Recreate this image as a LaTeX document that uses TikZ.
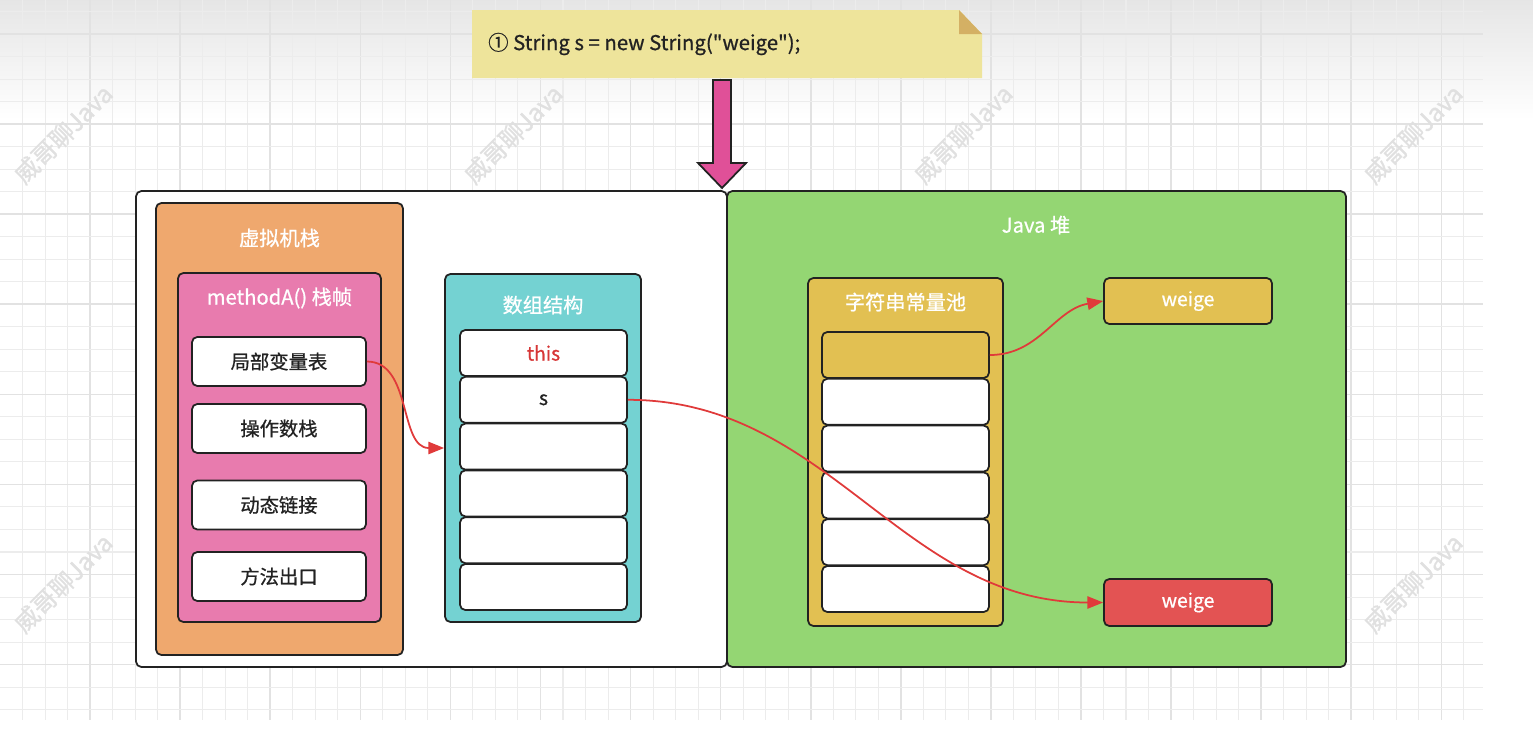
\documentclass[tikz,border=0pt]{standalone}
\usepackage{fontspec}
\setmainfont{Noto Sans CJK SC}[FakeBold=0.8]
\newfontfamily\codefont{Noto Sans CJK SC}[FakeBold=0.8]
\usetikzlibrary{arrows.meta,positioning}
\definecolor{NoteY}  {RGB}{238,228,155}
\definecolor{NoteF}  {RGB}{212,176,100}
\definecolor{ArrowP} {RGB}{224, 80,152}
\definecolor{HeapG}  {RGB}{148,214,115}
\definecolor{StackO} {RGB}{239,168,110}
\definecolor{FrameP} {RGB}{232,123,174}
\definecolor{ArrC}   {RGB}{116,210,210}
\definecolor{PoolY}  {RGB}{226,192, 82}
\definecolor{WeigeR} {RGB}{227, 83, 83}
\definecolor{LinkR}  {RGB}{224, 58, 58}
\definecolor{ThisR}  {RGB}{215, 55, 55}
\definecolor{LineD}  {RGB}{ 34, 34, 34}
\definecolor{GridL}  {RGB}{236,236,236}
\definecolor{GridB}  {RGB}{226,226,226}
\definecolor{MarkG}  {RGB}{224,224,224}

\begin{document}
\begin{tikzpicture}[x=0.02cm,y=-0.02cm,
    box/.style={draw=LineD,line width=1pt,rounded corners=3pt,inner sep=0pt},
    cell/.style={box,fill=white,text=LineD,minimum width=3.34cm,minimum height=0.92cm,
      font=\fontsize{11}{13}\selectfont},
    title/.style={text=white,font=\fontsize{11.5}{13}\selectfont},
    wmark/.style={text=MarkG,rotate=45,font=\fontsize{14}{16}\selectfont},
    link/.style={LinkR,line width=1pt,-{Triangle[length=9pt,width=7pt]}}]
  \useasboundingbox (0,0) rectangle (1533,737);
  % paper background
  \fill[white] (0,0) rectangle (1533,737);
  \shade[top color=black!10,bottom color=white] (0,0) rectangle (1533,120);
  \foreach \i in {1,...,65}{
    \pgfmathtruncatemacro\r{mod(\i,4)}
    \ifnum\r=0 \draw[GridB,line width=0.9pt] ({22.52*\i},0) -- ({22.52*\i},720);
    \else \draw[GridL,line width=0.6pt] ({22.52*\i},0) -- ({22.52*\i},720); \fi}
  \foreach \j in {0,...,31}{
    \pgfmathtruncatemacro\r{mod(\j+3,4)}
    \ifnum\r=0 \draw[GridB,line width=0.9pt] (0,{11.5+22.52*\j}) -- (1483,{11.5+22.52*\j});
    \else \draw[GridL,line width=0.6pt] (0,{11.5+22.52*\j}) -- (1483,{11.5+22.52*\j}); \fi}
  \foreach \x/\y in {63/134,513/134,963/134,1413/134,63/583,1413/583}
    \node[wmark] (wm-\x-\y) at (\x,\y) {威哥聊Java};

  % code note
  \fill[NoteY] (472,10) -- (959,10) -- (982,34) -- (982,78) -- (472,78) -- cycle;
  \fill[NoteF] (959,10) -- (959,34) -- (982,34) -- cycle;
  \node[anchor=west,text=LineD,font=\codefont\fontsize{11.6}{13}\selectfont] (code) at (482,44)
    {① String s = new String("weige");};
  \draw[LineD,line width=1pt,fill=ArrowP] (713,80) -- (731,80) -- (731,163) -- (746,163)
    -- (722,188) -- (698,163) -- (713,163) -- cycle;

  % runtime areas
  \node[box,fill=white,minimum width=11.82cm,minimum height=9.52cm] (jvm) at (431.5,429) {};
  \node[box,fill=HeapG,minimum width=12.38cm,minimum height=9.52cm] (heap) at (1036.5,429) {};
  \node[title] (heapT) at (1036,225) {Java 堆};

  % stack and frame
  \node[box,fill=StackO,minimum width=4.94cm,minimum height=9.04cm] (stack) at (279.5,429) {};
  \node[title] (stackT) at (279.5,238) {虚拟机栈};
  \node[box,fill=FrameP,minimum width=4.06cm,minimum height=6.98cm] (frame) at (279.5,447.5) {};
  \node[title] (frameT) at (279.5,298) {methodA() 栈帧};
  \foreach \n/\y/\t in {loc/361.5/局部变量表,ops/428.5/操作数栈,dyn/505/动态链接,ret/576.5/方法出口}
    \node[cell,minimum width=3.48cm,minimum height=0.98cm] (\n) at (279,\y) {\t};

  % local variable slots
  \node[box,fill=ArrC,minimum width=3.92cm,minimum height=6.96cm] (arr) at (543,448) {};
  \node[title] (arrT) at (543,305) {数组结构};
  \foreach \i/\c/\t in {1/ThisR/this,2/LineD/s,3/LineD/,4/LineD/,5/LineD/,6/LineD/}
    \node[cell,text=\c] (a\i) at (543.5,{353+46.8*(\i-1)}) {\t};

  % string pool
  \node[box,fill=PoolY,minimum width=3.9cm,minimum height=6.96cm] (pool) at (905.5,452) {};
  \node[title] (poolT) at (905.5,302) {字符串常量池};
  \foreach \i/\f in {1/PoolY,2/white,3/white,4/white,5/white,6/white}
    \node[cell,fill=\f] (p\i) at (905.5,{355+46.8*(\i-1)}) {};

  \node[cell,fill=PoolY,text=white,minimum width=3.36cm] (wT) at (1188,301) {weige};
  \node[cell,fill=WeigeR,text=white,minimum width=3.36cm,minimum height=0.94cm] (wB) at (1188,602.5) {weige};

  \draw[link] (loc.east) to[out=0,in=180] (arr.west);
  \draw[link] (a2.east) to[out=0,in=180] (wB.west);
  \draw[link] (p1.east) to[out=0,in=190] (wT.west);
\end{tikzpicture}
\end{document}
